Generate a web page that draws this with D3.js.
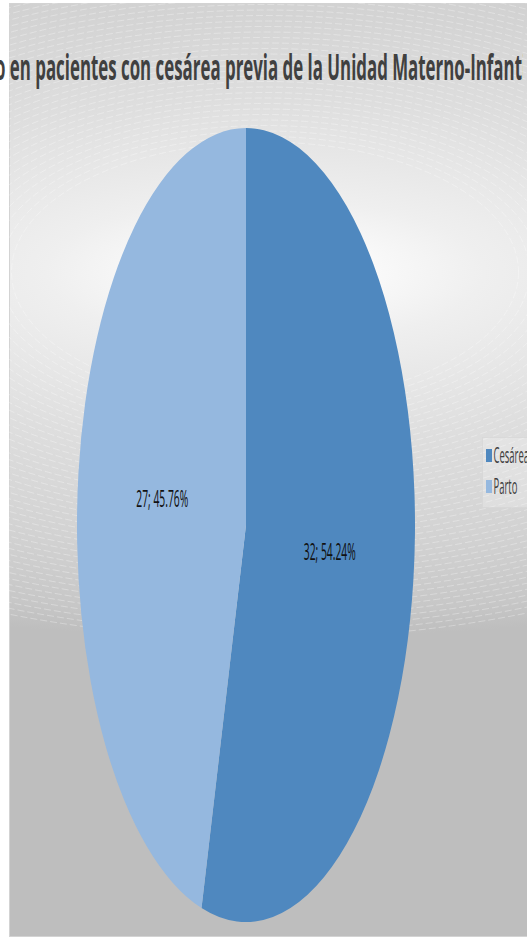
<!DOCTYPE html>
<html>
<head>
<meta charset="utf-8">
<script src="https://cdn.jsdelivr.net/npm/d3@7"></script>
<style>
  html, body { margin: 0; padding: 0; background: #ffffff; overflow: hidden; }
  svg { display: block; }
  text { font-family: "Open Sans", sans-serif; }
</style>
</head>
<body>
<script>
// Chart data
const categories = ["Cesárea", "Parto"];
const counts = [32, 27];
const titleText = "Tipo de parto en pacientes con cesárea previa de la Unidad Materno-Infantil";
const titleHiddenPrefix = "Tipo de part";
const titleVisiblePart = "o en pacientes con cesárea previa de la Unidad Materno-Infant";

const W = 527, H = 939;
const textSqueeze = 0.43;           // narrow, condensed lettering

const color = d3.scaleOrdinal()
  .domain(categories)
  .range(["#4f88bf", "#95b8df"]);

const svg = d3.select("body").append("svg")
  .attr("width", W).attr("height", H);

const defs = svg.append("defs");

// Soft silver background: bright horizontal band fading to grey
const grad = defs.append("radialGradient")
  .attr("id", "bg")
  .attr("gradientUnits", "userSpaceOnUse")
  .attr("cx", 265).attr("cy", 272).attr("r", 365)
  .attr("gradientTransform", "translate(265,272) scale(3,1) translate(-265,-272)");
[
  [0, "#ffffff"], [0.08, "#fbfbfb"], [0.2, "#efefef"], [0.47, "#dedede"],
  [0.75, "#d2d2d2"], [0.93, "#c7c7c7"], [1, "#bebebe"]
].forEach(([o, c]) => grad.append("stop").attr("offset", o).attr("stop-color", c));

defs.append("clipPath").attr("id", "chartClip")
  .append("rect").attr("x", 9).attr("y", 3).attr("width", 530).attr("height", 934);

// Title box: the long title runs past its frame on both sides
defs.append("clipPath").attr("id", "titleClip")
  .append("rect").attr("x", -10).attr("y", 0).attr("width", 533).attr("height", 120);

// Chart area
svg.append("rect")
  .attr("x", 9.5).attr("y", 3.5).attr("width", 530).attr("height", 933)
  .attr("fill", "url(#bg)")
  .attr("stroke", "#d3d3d3");

// Faint dashed rings of the background texture
const rings = svg.append("g").attr("clip-path", "url(#chartClip)");
const ringGap = 5.5;
for (let r = 130; r <= 368; r += ringGap) {
  rings.append("ellipse")
    .attr("cx", 265).attr("cy", 272)
    .attr("rx", r * 1.95).attr("ry", r)
    .attr("fill", "none")
    .attr("stroke", "#ffffff")
    .attr("stroke-opacity", 0.38)
    .attr("stroke-width", 0.8)
    .attr("stroke-dasharray", "7 3");
}

// Horizontally condensed text helper
function condensedText(parent, x, y, str, sx) {
  const g = parent.append("g").attr("transform", `translate(${x},${y}) scale(${sx},1)`);
  return g.append("text").text(str);
}

// Title
const titleG = svg.append("g").attr("clip-path", "url(#titleClip)").append("g");
const title = titleG.append("text")
  .text(titleText)
  .attr("font-size", 36)
  .attr("font-weight", 700)
  .attr("fill", "#404040");
const prefixW = title.node().getSubStringLength(0, titleHiddenPrefix.length);
const visibleW = title.node().getSubStringLength(titleHiddenPrefix.length, titleVisiblePart.length);
const titleLeft = -5, titleRight = 522;
const titleSx = (titleRight - titleLeft) / visibleW;
title.attr("x", -prefixW);
titleG.attr("transform", `translate(${titleLeft},80) scale(${titleSx},1)`);

// Pie, stretched into a tall ellipse
const cx = 246, cy = 525, rx = 169, ry = 397;
const data = categories.map((c, i) => ({ name: c, value: counts[i] }));
const total = d3.sum(counts);
const pie = d3.pie().sort(null).value(d => d.value);
const arcs = pie(data);
const arc = d3.arc().innerRadius(0).outerRadius(ry);
const labelArc = d3.arc().innerRadius(ry * 0.5).outerRadius(ry * 0.5);

const pieG = svg.append("g").attr("transform", `translate(${cx},${cy})`);
pieG.append("g")
  .attr("transform", `scale(${rx / ry},1)`)
  .selectAll("path")
  .data(arcs)
  .join("path")
  .attr("d", arc)
  .attr("fill", d => color(d.data.name));

arcs.forEach(d => {
  const [lx, ly] = labelArc.centroid(d);
  const pct = (d.data.value / total * 100).toFixed(2);
  condensedText(pieG, lx * rx / ry, ly, `${d.data.value}; ${pct}%`, textSqueeze)
    .attr("text-anchor", "middle")
    .attr("dy", "0.36em")
    .attr("font-size", 24)
    .attr("fill", "#111111");
});

// Legend
const legend = svg.append("g");
legend.append("rect")
  .attr("x", 482.5).attr("y", 437.5).attr("width", 60).attr("height", 70)
  .attr("fill", "#ffffff").attr("fill-opacity", 0.22)
  .attr("stroke", "#d6d6d6").attr("stroke-opacity", 0.7);
const legendY = d3.scalePoint().domain(categories).range([455.5, 486.5]);
categories.forEach(c => {
  legend.append("rect")
    .attr("x", 486).attr("y", legendY(c) - 6.5)
    .attr("width", 6).attr("height", 13)
    .attr("fill", color(c));
  condensedText(legend, 493.5, legendY(c), c, textSqueeze)
    .attr("dy", "0.36em")
    .attr("font-size", 22)
    .attr("fill", "#404040");
});
</script>
</body>
</html>
